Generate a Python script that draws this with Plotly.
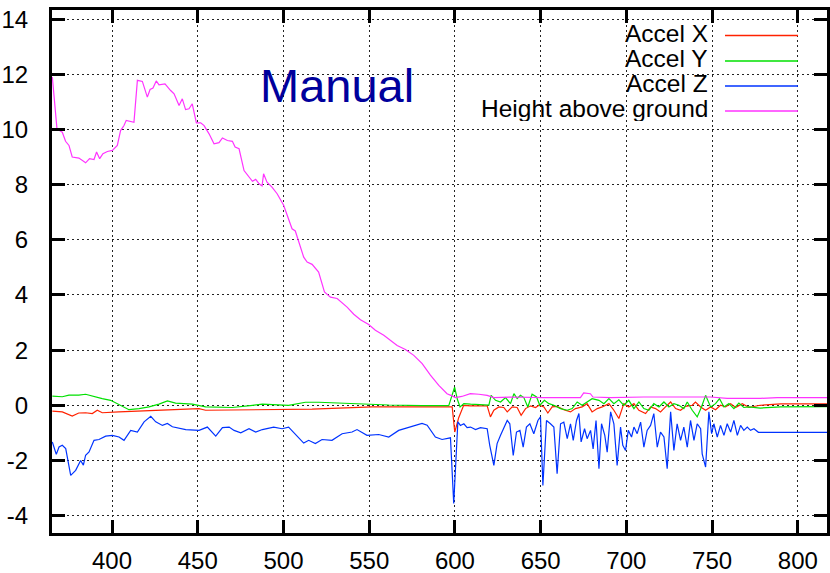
import plotly.graph_objects as go

# ---------------- data ----------------
height_x = [365.2, 366.5, 367.9, 371, 372.9, 374.9, 376.8, 380.7, 384.6, 386.9, 389.5, 391, 392.8, 394.7, 397.3,
            400.2, 403.1, 405, 407, 408.3, 412.8, 414.8, 417.7, 420.6, 422.2, 423.9, 425.8, 427.4, 430.9, 434.2,
            436.2, 439.1, 441, 442.9, 444.9, 446.8, 449.2, 451.7, 453.7, 456.6, 459.5, 462.4, 464.4, 467.3, 470.2,
            471.8, 474.1, 477, 479.9, 481.9, 483.8, 485.8, 487.5, 488.4, 490.4, 493.3, 496.3, 500.1, 505, 506.9,
            511.8, 513.8, 516.7, 520.5, 523.9, 527.4, 531.3, 537.1, 541, 544.9, 549.7, 553.6, 558.5, 562.4, 566.3,
            571.1, 576, 580.9, 585.7, 590.6, 595.4, 598, 600.3, 604, 609, 614, 618.8, 622.7, 632.4, 651.8,
            673.2, 675.1, 679, 680.5, 690.7, 710.2, 729.6, 749, 758.8, 778.2, 788, 817]
height_y = [11.9, 11.05, 10.02, 9.9, 9.57, 9.42, 9.0, 8.96, 8.79, 8.94, 8.91, 9.18, 8.94, 9.12, 9.2,
            9.24, 9.42, 9.96, 10.14, 10.33, 10.26, 11.78, 11.74, 11.17, 11.45, 11.5, 11.76, 11.62, 11.65, 11.41,
            11.29, 10.87, 11.11, 10.72, 10.75, 10.93, 10.24, 10.24, 10.14, 9.84, 9.48, 9.52, 9.69, 9.6, 9.57,
            9.36, 9.3, 8.51, 8.27, 8.12, 8.19, 8.03, 7.95, 8.39, 8.09, 7.91, 7.67, 7.25, 6.4, 6.32,
            5.37, 5.19, 5.11, 4.83, 4.11, 3.92, 3.87, 3.56, 3.3, 3.1, 2.93, 2.72, 2.54, 2.36, 2.17,
            2.02, 1.81, 1.51, 1.09, 0.72, 0.42, 0.35, 0.28, 0.32, 0.42, 0.4, 0.36, 0.28, 0.3, 0.28,
            0.28, 0.45, 0.42, 0.3, 0.28, 0.3, 0.3, 0.3, 0.25, 0.25, 0.28, 0.28]

accx_x = [365.2, 371, 376.8, 380.6, 384.6, 388.5, 391.4, 394.3, 404, 423.5, 450.7, 454.6, 487.7, 516.7, 551.7,
          592.5, 598.4, 599.9, 602.2, 605.1, 609.1, 618.8, 620.7, 622.7, 625.6, 628.5, 630.5, 633.4, 636.3, 638.6,
          641.2, 644.1, 647, 649, 651.9, 654.2, 656.7, 659.6, 663.5, 667.4, 670.3, 674.2, 677.1, 680, 683,
          685.9, 689.8, 692.7, 695.6, 698.5, 701.4, 704.4, 707.3, 711.2, 714.1, 717, 719.9, 722.8, 725.8, 728.7,
          731.6, 734.5, 738.4, 740.3, 743.3, 746.2, 749.1, 752, 754.9, 757.8, 760.8, 763.7, 767.6, 771.5, 778,
          790, 817]
accx_y = [-0.21, -0.24, -0.39, -0.28, -0.27, -0.3, -0.18, -0.27, -0.24, -0.18, -0.12, -0.18, -0.16, -0.14, -0.06,
          -0.04, -0.06, -0.97, -0.45, 0.0, -0.02, -0.02, -0.42, -0.18, -0.06, -0.08, -0.24, -0.06, -0.08, -0.36,
          -0.12, -0.02, -0.08, 0.0, -0.06, -0.28, -0.06, -0.04, -0.16, -0.24, -0.12, -0.06, 0.06, -0.24, -0.12,
          -0.06, 0.06, -0.18, -0.48, 0.06, -0.06, 0.06, -0.18, -0.3, -0.06, -0.12, -0.24, -0.06, 0.12, -0.12,
          -0.18, -0.04, 0.0, 0.12, -0.06, -0.18, -0.06, -0.16, 0.0, -0.06, 0.06, -0.08, 0.06, -0.08, 0.0,
          0.05, 0.05]

accy_x = [365.2, 371, 374.9, 380.6, 384.6, 388.5, 394.3, 399.2, 402.1, 406, 409.9, 415.8, 421.6, 427.4, 432.3,
          437.1, 446.8, 454.6, 464.4, 470.2, 481.9, 487.7, 503, 508.9, 512.8, 520.6, 534.2, 541.9, 561.4, 580.8,
          596.4, 599.8, 601.5, 603, 605.2, 609.1, 616.8, 619.8, 621.1, 623.7, 626.6, 629.5, 632.4, 634.4, 636.3,
          638.2, 640.2, 642.5, 645, 647.6, 649.5, 652.2, 654.8, 657.7, 661.6, 665.5, 668.4, 671.3, 674.2, 677.1,
          680, 684, 686.9, 689.8, 692.7, 695.6, 698.5, 701.4, 704.4, 707.3, 710.2, 713.1, 716, 719, 721.9,
          724.8, 727.7, 730.6, 733.5, 735.5, 738.4, 741.3, 743.8, 746.2, 749.1, 752, 754.3, 756.9, 759.8, 762.7,
          765.6, 768.5, 771.5, 778, 790, 817]
accy_y = [0.33, 0.31, 0.37, 0.37, 0.4, 0.33, 0.24, 0.18, 0.08, -0.04, -0.16, -0.12, -0.06, 0.04, 0.16,
          0.08, 0.04, -0.06, -0.08, -0.08, 0.0, 0.04, 0.0, 0.06, 0.11, 0.11, 0.08, 0.04, 0.01, -0.01,
          -0.01, 0.66, 0.2, -0.06, 0.06, 0.04, 0.01, 0.01, 0.36, 0.18, 0.12, 0.28, 0.06, 0.42, 0.24,
          0.36, 0.28, -0.06, 0.4, 0.3, 0.0, 0.18, 0.06, 0.0, -0.12, -0.18, -0.12, 0.12, 0.0, 0.12,
          0.24, 0.18, 0.06, 0.24, 0.06, 0.2, 0.0, 0.18, -0.12, 0.12, -0.12, -0.18, 0.06, -0.06, 0.12,
          -0.06, 0.06, 0.0, -0.12, 0.12, -0.18, -0.42, -0.06, 0.36, -0.06, 0.06, 0.24, -0.06, 0.06, -0.12,
          0.08, -0.08, -0.06, -0.1, -0.06, -0.05]

accz_x = [365.2, 367.5, 369.1, 371, 373, 375.9, 378.8, 381.7, 383.3, 384.6, 386.6, 389.5, 392.4, 396.3, 400.2,
          404.1, 407, 410.9, 414.8, 418.7, 422.6, 425.5, 429.4, 432.3, 435.2, 443, 450.8, 455.6, 460.5, 464.4,
          468.3, 471.2, 475.1, 479.9, 483.8, 487.7, 494.3, 499.2, 503, 506.9, 511.8, 514.7, 518.6, 522.5, 528.3,
          534.2, 540, 542.9, 548.7, 555.6, 561.4, 567.2, 573.1, 580.8, 583.8, 588.6, 592.5, 597.4, 599.3, 601.7,
          603.2, 605.2, 607.1, 609.1, 612, 614.9, 618.8, 620.3, 622.7, 624.6, 626.6, 628.9, 630.5, 632, 634,
          635.9, 637.9, 639.8, 641.7, 643.7, 646, 648.4, 649.9, 651.3, 653.4, 655.7, 657.7, 659.6, 661.6, 663.5,
          665.5, 667.4, 669, 670.9, 672.3, 673.6, 675.6, 677.1, 679.1, 680.6, 682.3, 684, 685.5, 687.4, 688.8,
          690.8, 692.7, 694.6, 696.6, 697.9, 699.5, 701.1, 703, 704.4, 706.3, 708.3, 710.2, 712.1, 714.1, 716,
          718, 719.9, 721.9, 723.8, 725.8, 727.7, 729.6, 731.6, 733.5, 735.5, 737.4, 739.4, 741.3, 743.3, 744.2,
          746.2, 748.1, 749.7, 751, 753, 754.9, 756.9, 758.8, 760.8, 762.7, 764.7, 766.6, 768.5, 770.5, 772.4,
          774.4, 777, 817]
accz_y = [-1.33, -1.78, -1.51, -1.45, -1.57, -2.54, -2.36, -2.0, -2.17, -1.81, -1.69, -1.27, -1.24, -1.12, -1.09,
          -1.15, -1.27, -0.91, -0.97, -0.6, -0.4, -0.6, -0.73, -0.66, -0.78, -0.88, -0.91, -0.79, -1.12, -0.81,
          -0.79, -0.91, -1.0, -0.85, -0.97, -0.88, -0.79, -0.85, -0.79, -1.03, -1.37, -1.27, -1.39, -1.24, -1.27,
          -1.03, -0.97, -0.88, -1.09, -1.06, -1.15, -0.91, -0.79, -0.66, -0.72, -1.15, -1.24, -1.18, -3.56, -0.6,
          -0.73, -0.67, -0.81, -0.79, -0.88, -0.81, -0.85, -1.45, -2.18, -1.39, -1.09, -0.73, -0.55, -0.67, -1.82,
          -0.97, -0.91, -1.52, -0.79, -0.67, -1.03, -0.55, -0.42, -2.91, -0.55, -0.67, -0.79, -2.48, -0.67, -0.61,
          -1.21, -0.67, -1.27, -0.55, -0.3, -1.33, -0.85, -1.21, -0.91, -1.58, -0.55, -2.3, -0.67, -1.09, -1.7,
          -0.24, -0.67, -2.18, -0.79, -1.45, -1.64, -0.91, -1.15, -0.79, -1.03, -0.61, -1.52, -0.91, -0.73, -0.3,
          -1.52, -0.97, -1.15, -2.3, -0.24, -1.64, -0.67, -1.27, -0.79, -1.52, -0.55, -1.27, -0.67, -0.85, -1.76,
          -2.24, -0.24, -1.03, -0.67, -1.15, -0.73, -1.09, -0.67, -0.97, -0.55, -1.09, -0.73, -0.91, -0.79, -0.91,
          -0.85, -0.98, -0.98]

series_names = ["Accel X", "Accel Y", "Accel Z", "Height above ground"]
series_colors = ["#ff2200", "#00e000", "#0033ff", "#ff33ff"]
x_ticks = [400, 450, 500, 550, 600, 650, 700, 750, 800]
y_ticks = [-4, -2, 0, 2, 4, 6, 8, 10, 12, 14]
title_text = "Manual"

for a, b in [(height_x, height_y), (accx_x, accx_y), (accy_x, accy_y), (accz_x, accz_y)]:
    assert len(a) == len(b), (len(a), len(b))

# ---------------- figure ----------------
fig = go.Figure()
data = [(accx_x, accx_y), (accy_x, accy_y), (accz_x, accz_y), (height_x, height_y)]
for (xs, ys), name, col in zip(data, series_names, series_colors):
    fig.add_trace(go.Scatter(x=xs, y=ys, mode="lines", name=name,
                             line=dict(color=col, width=1.2)))

FONT = "Liberation Sans, Arial, sans-serif"
axis_common = dict(showline=True, linewidth=3, linecolor="black", mirror="ticks",
                   ticks="inside", ticklen=13, tickwidth=3, tickcolor="black",
                   showgrid=True, gridcolor="#222222", gridwidth=1, griddash="2px,3px",
                   zeroline=False, automargin=False,
                   tickfont=dict(family=FONT, size=24, color="black"))

fig.update_xaxes(range=[365, 817], tickvals=x_ticks, ticktext=[str(v) for v in x_ticks],
                 ticklabelstandoff=4, **axis_common)
fig.update_yaxes(range=[-4.63, 14.33], tickvals=y_ticks, ticktext=[str(v) for v in y_ticks],
                 ticklabelstandoff=16, **axis_common)

# gnuplot-style key: right-aligned text followed by a line sample
key_y = [0.9512, 0.9025, 0.8547, 0.8069]
for name, col, ky in zip(series_names, series_colors, key_y):
    fig.add_annotation(xref="paper", yref="paper", x=0.8475, y=ky, text=name, showarrow=False,
                       xanchor="right", yanchor="middle", height=25, valign="middle", borderpad=0,
                       yshift=2, font=dict(family=FONT, size=24.5, color="black"))
    fig.add_shape(type="line", xref="paper", yref="paper", x0=0.8684, x1=0.9626, y0=ky, y1=ky,
                  line=dict(color=col, width=1.5))

fig.add_annotation(xref="paper", yref="paper", x=0.3671, y=0.8551, text=title_text, showarrow=False,
                   xanchor="center", yanchor="middle",
                   font=dict(family=FONT, size=47, color="#00009c"))

fig.update_layout(width=830, height=573, margin=dict(l=52, r=3, t=10, b=40),
                  plot_bgcolor="white", paper_bgcolor="white", showlegend=False,
                  font=dict(family=FONT, size=24, color="black"))

fig.write_html("out.html")
